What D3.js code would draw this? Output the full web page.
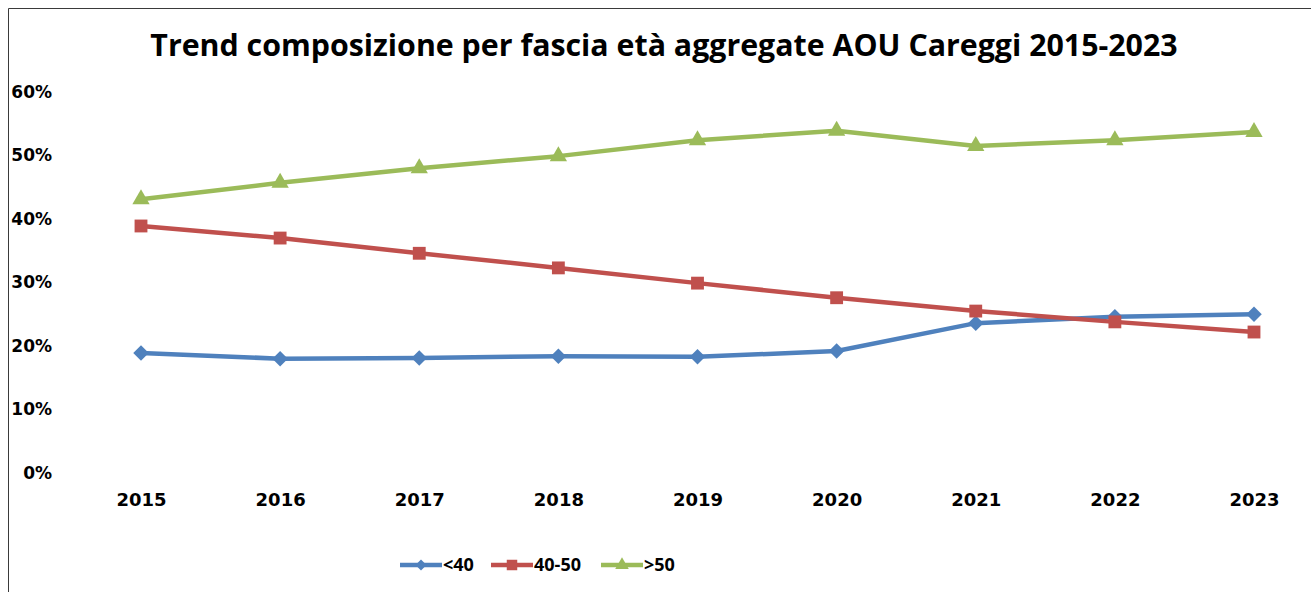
<!DOCTYPE html>
<html>
<head>
<meta charset="utf-8">
<script src="https://cdn.jsdelivr.net/npm/d3@7"></script>
<style>
  body { margin: 0; background: #fff; }
  svg { display: block; }
</style>
</head>
<body>
<svg id="chart" width="1311" height="592"></svg>
<script>
// values (share of staff per age band)
const years = ["2015", "2016", "2017", "2018", "2019", "2020", "2021", "2022", "2023"]
const under40 = [0.189, 0.180, 0.181, 0.184, 0.183, 0.192, 0.236, 0.246, 0.250]
const from40to50 = [0.389, 0.370, 0.346, 0.323, 0.299, 0.276, 0.255, 0.238, 0.222]
const over50 = [0.431, 0.457, 0.480, 0.499, 0.524, 0.539, 0.515, 0.524, 0.537]
const yTicks = [0, 0.1, 0.2, 0.3, 0.4, 0.5, 0.6]
const seriesNames = ["<40", "40-50", ">50"]

const series = [
  { name: seriesNames[0], values: under40, color: "#4F81BD", shape: "diamond" },
  { name: seriesNames[1], values: from40to50, color: "#C0504D", shape: "square" },
  { name: seriesNames[2], values: over50, color: "#9BBB59", shape: "triangle" }
]

const svg = d3.select("#chart")

// frame (the picture is cropped on the right and bottom)
svg.append("path")
  .attr("d", "M8.5,592V8.5H1311")
  .attr("fill", "none")
  .attr("stroke", "#3a3a3a")
  .attr("stroke-width", 1)

const x = d3.scalePoint().domain(years).range([141, 1254])
const y = d3.scaleLinear().domain([0, 0.6]).range([473, 92])

// title, sized to the width it takes in the picture
const title = svg.append("text")
  .attr("x", 664)
  .attr("y", 56)
  .attr("text-anchor", "middle")
  .style("font-family", "'Open Sans', sans-serif")
  .style("font-weight", "bold")
  .style("font-size", "28px")
  .attr("fill", "#000")
  .text("Trend composizione per fascia età aggregate AOU Careggi 2015-2023")
var tw = title.node().getComputedTextLength()
title.style("font-size", (28 * 1028 / tw) + "px")

const yAxis = svg.append("g")
  .attr("transform", "translate(52,0)")
  .call(d3.axisLeft(y).tickValues(yTicks).tickFormat(d3.format(".0%")).tickSize(0).tickPadding(0))
yAxis.select(".domain").remove()
yAxis.selectAll("text")
  .style("font-family", "'DejaVu Sans', sans-serif")
  .style("font-weight", "bold")
  .style("font-size", "17px")
  .attr("fill", "#000")

const xAxis = svg.append("g")
  .attr("transform", "translate(0,473)")
  .call(d3.axisBottom(x).tickSize(0).tickPadding(20))
xAxis.select(".domain").remove()
xAxis.selectAll("text")
  .style("font-family", "'DejaVu Sans', sans-serif")
  .style("font-weight", "bold")
  .style("font-size", "18px")
  .attr("fill", "#000")

function markerPath(shape, big) {
  if (shape == "diamond")
    return d3.symbol().type(d3.symbolSquare).size(big ? 120 : 60)()
  if (shape == "square")
    return d3.symbol().type(d3.symbolSquare).size(big ? 165 : 110)()
  return d3.symbol().type(d3.symbolTriangle).size(big ? 130 : 80)()
}

const line = d3.line()
  .x((d, i) => x(years[i]))
  .y(d => y(d))

const gSeries = svg.append("g")
  .selectAll("g")
  .data(series)
  .join("g")

gSeries.append("path")
  .attr("d", d => line(d.values))
  .attr("fill", "none")
  .attr("stroke", d => d.color)
  .attr("stroke-width", 4.5)
  .attr("stroke-linejoin", "round")

gSeries.each(function(s) {
  d3.select(this).selectAll(".marker")
    .data(s.values)
    .join("path")
    .attr("class", "marker")
    .attr("d", markerPath(s.shape, true))
    .attr("fill", s.color)
    .attr("transform", (d, i) => "translate(" + x(years[i]) + "," + y(d) + ")" + (s.shape == "diamond" ? " rotate(45)" : ""))
})

// legend
const legendX = [400, 491, 601]
const legend = svg.append("g")
  .selectAll("g")
  .data(series)
  .join("g")
  .attr("transform", (d, i) => "translate(" + legendX[i] + ",565)")

legend.append("line")
  .attr("x1", 0).attr("x2", 42)
  .attr("stroke", d => d.color)
  .attr("stroke-width", 4.5)

legend.append("path")
  .attr("d", d => markerPath(d.shape, false))
  .attr("fill", d => d.color)
  .attr("transform", d => "translate(21,0)" + (d.shape == "diamond" ? " rotate(45)" : ""))

legend.append("text")
  .attr("x", 43)
  .attr("dy", "0.36em")
  .style("font-family", "'Open Sans', sans-serif")
  .style("font-weight", "bold")
  .style("font-size", "18px")
  .attr("fill", "#000")
  .text(d => d.name)
</script>
</body>
</html>
